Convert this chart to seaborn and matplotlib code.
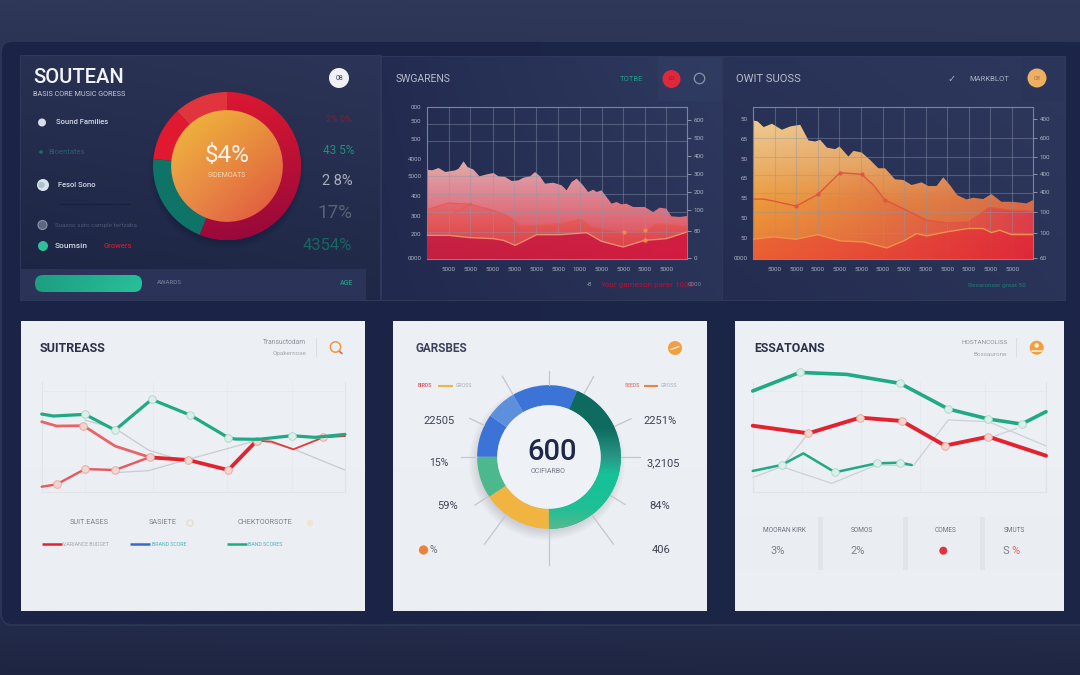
import numpy as np
import matplotlib
matplotlib.use("Agg")
import matplotlib.pyplot as plt
from matplotlib.colors import to_rgb
from matplotlib.patches import Circle, FancyBboxPatch, Rectangle
import seaborn as sns

sns.set_theme(style="white")
plt.rcParams["font.family"] = ["Roboto", "DejaVu Sans"]

W, H = 1080, 675

# ---- dark area charts -------------------------------------------------
rev_x = [0, 15, 35, 55, 85, 95, 110, 122, 140, 158, 180, 200, 215, 235, 255, 275, 290, 310, 325, 340, 355, 380,
         405, 420, 435, 450, 465, 485, 500, 510, 525, 540, 555, 570, 585, 600, 620, 655, 680, 700, 720, 735, 760, 782]
rev_top = [536, 532, 546, 522, 532, 542, 586, 552, 536, 496, 508, 516, 496, 492, 468, 472, 488, 496, 522, 496, 452, 458,
           442, 412, 462, 482, 452, 402, 416, 402, 412, 372, 332, 342, 328, 332, 312, 312, 282, 308, 302, 256, 252, 258]
rev_mid_x = [0, 65, 130, 200, 245, 280, 330, 400, 460, 500, 590, 655, 690, 782]
rev_mid = [296, 336, 328, 292, 256, 202, 202, 212, 238, 192, 162, 172, 212, 198]
rev_low_x = [0, 65, 130, 200, 230, 265, 330, 400, 480, 525, 590, 655, 720, 782]
rev_low = [142, 142, 128, 122, 112, 82, 146, 146, 158, 106, 72, 112, 122, 162]
rev_side_x = [0, 65, 130]
rev_side = [272, 258, 328]

cost_x = [0, 14, 32, 57, 87, 112, 142, 167, 187, 202, 222, 247, 260, 287, 302, 327, 352, 377, 397, 427, 452, 477,
          507, 527, 552, 572, 592, 614, 642, 662, 692, 717, 747, 782, 822, 842]
cost_top = [828, 822, 788, 808, 772, 792, 802, 708, 702, 712, 666, 656, 672, 612, 646, 636, 592, 542, 542, 476, 472, 442,
            458, 436, 436, 488, 442, 382, 356, 366, 358, 388, 342, 342, 332, 352]
cost_mid_x = [0, 32, 62, 130, 195, 262, 327, 362, 397, 457, 522, 582, 647, 712, 772, 842]
cost_mid = [358, 358, 346, 316, 386, 516, 506, 442, 352, 296, 232, 216, 220, 308, 292, 286]
cost_low_x = [0, 62, 130, 195, 262, 332, 402, 457, 492, 522, 582, 647, 692, 717, 742, 777, 842]
cost_low = [118, 132, 118, 146, 108, 102, 66, 112, 152, 138, 162, 182, 182, 158, 172, 146, 146]

rev_left_labels = ["000", "500", "500", "4000", "5000", "400", "300", "200", "0000"]
rev_left_ticks = [912, 828, 718, 602, 496, 380, 260, 148, 8]
rev_right_labels = ["600", "500", "400", "300", "200", "100", "80", "0"]
rev_right_ticks = [830, 722, 614, 508, 402, 294, 168, 8]
rev_bottom_labels = ["5000", "5000", "5000", "5000", "5000", "5000", "1000", "5000", "5000", "5000", "5000"]
cost_left_labels = ["50", "65", "50", "65", "55", "50", "50", "0000"]
cost_left_ticks = [836, 716, 598, 482, 366, 246, 126, 8]
cost_right_labels = ["400", "600", "100", "400", "400", "100", "100", "60"]
cost_right_ticks = [836, 722, 612, 506, 398, 280, 154, 8]
cost_bottom_labels = ["5000", "5000", "5000", "5000", "5000", "5000", "5000", "5000", "5000", "5000", "5000", "5000"]

# ---- light line charts --------------------------------------------------
sales_green_x = [0, 35, 130, 220, 330, 445, 560, 580, 650, 750, 820, 910]
sales_green = [70.6, 68.8, 70.3, 56, 83.9, 69.7, 49.1, 47.9, 47.6, 50.9, 49.4, 52.1]
sales_red_a_x = [0, 45, 125, 220, 325]
sales_red_a = [63.6, 59.7, 60, 41.5, 31.2]
sales_red_b_x = [325, 440, 560, 645]
sales_red_b = [31.2, 28.8, 19.7, 46.4]
sales_red_c_x = [645, 690, 755, 845, 910]
sales_red_c = [46.4, 45.5, 38.5, 49.4, 50.6]
sales_red_d_x = [0, 45, 130, 220, 328]
sales_red_d = [4.5, 6.7, 20.6, 19.7, 31.8]
sales_grey_a_x = [130, 220, 320, 390]
sales_grey_a = [65, 57.6, 37.9, 31.2]
sales_grey_b_x = [220, 320, 440, 560, 650, 750, 910]
sales_grey_b = [17.3, 19.1, 29.4, 39.4, 47, 39.4, 19.7]

est_green_x = [0, 142, 282, 442, 587, 707, 807, 880]
est_green = [91.6, 108.4, 106.6, 98.5, 75.3, 66.3, 61.7, 72.9]
est_red_x = [0, 167, 322, 447, 577, 707, 880]
est_red = [60.2, 53.3, 67.5, 64.5, 42.2, 50.3, 33.1]
est_low_x = [0, 87, 152, 247, 372, 442, 477]
est_low = [19.3, 24.7, 35.2, 18.1, 26.2, 26.8, 24.7]
est_grey_a_x = [0, 87, 167]
est_grey_a = [13.3, 23.2, 53.3]
est_grey_b_x = [87, 237, 372, 482, 587, 707, 880]
est_grey_b = [23.2, 8.1, 24.7, 24.1, 65.4, 63.9, 41.9]
est_grey_c_x = [577, 707, 792]
est_grey_c = [42.2, 48.8, 57.8]

# ---- donuts -------------------------------------------------------------
share_values = [56, 20.5, 11.75, 11.75]
share_colors = ["#A80C3C", "#0E7468", "#E01830", "#E0353C"]
garages_values = [43.6, 15.6, 9.4, 9.7, 6.9, 14.7]
garages_colors = ["#14A788", "#F2B440", "#4DB78E", "#3B74D6", "#5C90DC", "#3B74D6"]
garages_spoke_angles = [0, 29, 65, 90, 122, 143.5, 180, 216.5, 237, 270, 296, 330]
garages_spoke_reach = [1.2, 1.28, 1.26, 1.27, 1.25, 1.51, 1.5, 1.51, 1.23, 1.23, 1.23, 1.3]


def axes_px(x0, y0, x1, y1, **kw):
    ax = fig.add_axes([x0 / W, 1 - y1 / H, (x1 - x0) / W, (y1 - y0) / H], **kw)
    ax.patch.set_alpha(0)
    return ax


def corners(tl, tr, bl, br, n=48):
    t = np.linspace(0, 1, n)[None, :, None]
    v = np.linspace(0, 1, n)[:, None, None]
    tl, tr, bl, br = [np.array(to_rgb(c))[None, None, :] for c in (tl, tr, bl, br)]
    return (1 - v) * ((1 - t) * tl + t * tr) + v * ((1 - t) * bl + t * br)


def ramp(stops, n=200):
    pos = [s[0] for s in stops]
    rgb = np.array([to_rgb(s[1]) for s in stops])
    v = np.linspace(0, 1, n)
    return np.stack([np.interp(v, pos, rgb[:, i]) for i in range(3)], axis=1)


def columns(left_stops, right_stops, n=200, m=120):
    a, b = ramp(left_stops, n), ramp(right_stops, n)
    t = np.linspace(0, 1, m)[None, :, None]
    return a[:, None, :] * (1 - t) + b[:, None, :] * t


def paint(ax, img, extent, zorder=1, clip=None, alpha=1.0):
    xl, yl = ax.get_xlim(), ax.get_ylim()
    im = ax.imshow(img, extent=extent, aspect="auto", zorder=zorder, interpolation="bilinear",
                   origin="upper", alpha=alpha)
    ax.set_xlim(xl)
    ax.set_ylim(yl)
    if clip is not None:
        if isinstance(clip, tuple):
            im.set_clip_path(*clip)
        else:
            im.set_clip_path(clip)
    return im


def panel(ax, x0, y0, x1, y1, colors, edge=None):
    paint(ax, corners(*colors), (x0, x1, y1, y0))
    if edge:
        ax.add_patch(Rectangle((x0, y0), x1 - x0, y1 - y0, fc="none", ec=edge, lw=0.8, zorder=2))


def label(x, y, s, size=5, color="#C8CCD8", ha="left", weight="normal", **kw):
    fg.text(x, y, s, fontsize=size, color=color, ha=ha, va="center", fontweight=weight, zorder=6, **kw)


def dot(x, y, r, fc, ec="none", lw=0.0, alpha=1.0):
    fg.add_patch(Circle((x, y), r, fc=fc, ec=ec, lw=lw, alpha=alpha, zorder=5))


fig = plt.figure(figsize=(W / 100, H / 100), dpi=100)
bg = fig.add_axes([0, 0, 1, 1], zorder=0)
bg.set_xlim(0, W)
bg.set_ylim(H, 0)
bg.axis("off")
fg = fig.add_axes([0, 0, 1, 1], zorder=20)
fg.set_xlim(0, W)
fg.set_ylim(H, 0)
fg.axis("off")
fg.patch.set_alpha(0)

# page background and the large rounded frame
paint(bg, columns([(0, "#2F3859"), (0.06, "#2B3455"), (0.93, "#232B4A"), (1, "#1E2543")],
                  [(0, "#2F3859"), (0.06, "#2E3758"), (0.93, "#242C4B"), (1, "#1F2644")]), (0, W, H, 0))
frame = FancyBboxPatch((1, 41), W + 30, 584, boxstyle="round,pad=0,rounding_size=12", fc="none", ec="#2C3656", lw=1.2, zorder=1)
bg.add_patch(frame)
paint(bg, corners("#1B2447", "#1C2648", "#1C2547", "#1C2546"), (0, W, 625, 41), clip=frame)
bg.add_patch(FancyBboxPatch((1, 41), W + 30, 584, boxstyle="round,pad=0,rounding_size=12", fc="none", ec="#2C3656", lw=1.2, zorder=3))

# upper dark panels
panel(bg, 20, 55, 381, 300, ("#293152", "#2C3557", "#1C2444", "#202847"), edge="#2E3859")
panel(bg, 380, 56, 722, 300, ("#232C50", "#2F3A60", "#212A4E", "#2A3358"), edge="#2E3859")
panel(bg, 722, 56, 1065, 300, ("#293357", "#2E385D", "#242D50", "#2A3458"), edge="#2E3859")
bg.add_patch(Rectangle((20, 269), 346, 31, fc="#2B3458", ec="none", zorder=3))
bg.add_patch(Rectangle((658, 57), 63, 44, fc="#323D63", ec="none", alpha=0.5, zorder=3))
bg.add_patch(Rectangle((1022, 57), 42, 44, fc="#2A3458", ec="none", alpha=0.6, zorder=3))

# lower light cards
for x0, x1 in [(21, 365), (393, 707), (735, 1064)]:
    panel(bg, x0, 321, x1, 611, ("#EDF0F4", "#EDF1F5", "#EBEEF3", "#EBEEF2"))
bg.add_patch(Rectangle((735, 516), 329, 54, fc="#EAEDF1", ec="none", zorder=3))
for x in [818, 903, 980]:
    bg.add_patch(Rectangle((x, 517), 5, 53, fc="#E1E4E9", ec="none", zorder=3))


def area_chart(rect, xlim, x_grid, y_grid, left, right, bottom_labels):
    ax = axes_px(*rect, zorder=5)
    ax.set_xlim(*xlim)
    ax.set_ylim(0, 908)
    ax.set_xticks(x_grid)
    ax.set_xticklabels(bottom_labels)
    ax.set_yticks(left[0])
    ax.set_yticklabels(left[1])
    ax.set_yticks(y_grid, minor=True)
    ax.grid(False)
    ax.grid(True, which="minor", axis="y", color="#8D96AC", lw=0.8, alpha=0.42)
    ax.grid(True, which="major", axis="x", color="#8D96AC", lw=0.8, alpha=0.42)
    ax.set_axisbelow(False)
    ax.tick_params(axis="x", which="major", length=0, labelsize=4.5, labelcolor="#A9B1C2", pad=6)
    ax.tick_params(axis="y", which="major", length=0, labelsize=4.5, labelcolor="#A9B1C2", pad=4)
    ax.tick_params(which="minor", length=0)
    for s in ax.spines.values():
        s.set_color("#7A849D")
        s.set_linewidth(0.8)
    twin = ax.twinx()
    twin.set_ylim(0, 908)
    twin.set_yticks(right[0])
    twin.set_yticklabels(right[1])
    twin.grid(False)
    twin.patch.set_alpha(0)
    twin.tick_params(axis="y", length=3, width=0.7, color="#8B94AA", labelsize=4.5, labelcolor="#A9B1C2", pad=2)
    for s in twin.spines.values():
        s.set_visible(False)
    return ax


def gradient_area(ax, x, y, img, zorder, alpha=1.0):
    shape = ax.fill_between(x, y, 0, color="none", lw=0, zorder=zorder)
    paint(ax, img, (min(x), max(x), 0, max(y)), zorder=zorder, alpha=alpha,
          clip=(shape.get_paths()[0], ax.transData))


# revenue area chart
ax_rev = area_chart((427, 107, 687, 259), (0, 782), [65, 130, 198, 263, 329, 395, 460, 525, 590, 655, 720],
                    [812, 708, 602, 500, 392, 282, 162],
                    (rev_left_ticks, rev_left_labels), (rev_right_ticks, rev_right_labels),
                    rev_bottom_labels)
gradient_area(ax_rev, rev_x, rev_top,
              ramp([(0, "#E3ACA6"), (0.25, "#DE8E99"), (0.55, "#DF6E7A"), (0.85, "#DD4C58"), (1, "#D84050")])[:, None, :], 1)
gradient_area(ax_rev, rev_mid_x, rev_mid,
              ramp([(0, "#E5585C"), (0.45, "#E8483F"), (1, "#DC3A44")])[:, None, :], 2, alpha=0.5)
gradient_area(ax_rev, rev_low_x, rev_low,
              columns([(0, "#C72444"), (1, "#C41E40")], [(0, "#D11F42"), (1, "#D21C40")]), 3)
sns.lineplot(x=rev_mid_x, y=rev_mid, ax=ax_rev, color="#EA5A55", lw=0.9, zorder=4, errorbar=None,
             marker="o", markersize=2.5, mec="none", markevery=[2])
sns.lineplot(x=rev_side_x, y=rev_side, ax=ax_rev, color="#EA5A55", lw=0.9, zorder=4, errorbar=None)
sns.lineplot(x=rev_low_x, y=rev_low, ax=ax_rev, color="#EE8A6E", lw=1.0, zorder=4, errorbar=None,
             marker="o", markersize=3.2, mec="none", mfc="#F08A4A", markevery=[11])
ax_rev.plot([rev_low_x[10] + 2, rev_low_x[11] + 2], [rev_mid[10], rev_mid[11]], ls="none", marker="o", ms=3,
            mfc="#F08A4A", mec="none", zorder=5)

# cost area chart
ax_cost = area_chart((753, 107, 1033, 259), (0, 842), [65, 130, 195, 260, 325, 390, 454, 519, 584, 649, 714, 779],
                     [836, 722, 612, 500, 395, 280, 154],
                     (cost_left_ticks, cost_left_labels), (cost_right_ticks, cost_right_labels),
                     cost_bottom_labels)
gradient_area(ax_cost, cost_x, cost_top,
              columns([(0, "#EFCB90"), (0.3, "#EBB36E"), (0.58, "#EC9C3C"), (1, "#EC7A38")],
                      [(0, "#E2A878"), (0.3, "#DE9560"), (0.58, "#D86A48"), (1, "#D85A40")]), 1)
gradient_area(ax_cost, cost_mid_x, cost_mid,
              columns([(0, "#EA9A3A"), (1, "#EA6A38")], [(0, "#DE3650"), (1, "#E03048")]), 2,
              alpha=np.tile(np.linspace(0.1, 0.85, 120) ** 1.4, (200, 1)))
gradient_area(ax_cost, cost_low_x, cost_low,
              columns([(0, "#EC6236"), (1, "#EC5A34")], [(0, "#E02C3A"), (1, "#E02638")]), 3, alpha=0.85)
sns.lineplot(x=cost_mid_x, y=cost_mid, ax=ax_cost, color="#E2553F", lw=1.0, zorder=4, errorbar=None,
             marker="o", markersize=3, mec="none", markevery=[3, 4, 5, 6, 8])
sns.lineplot(x=cost_low_x, y=cost_low, ax=ax_cost, color="#F0924C", lw=1.0, zorder=4, errorbar=None)

# share donut
ax_share = axes_px(227 - 74, 166 - 74, 227 + 74, 166 + 74, zorder=5)
for i in range(8):
    bg.add_patch(Circle((227, 171), 78 - i, fc="#11183A", ec="none", alpha=0.035, zorder=4))
w_share, _ = ax_share.pie(share_values, colors=share_colors, startangle=90, counterclock=False,
                          radius=1, wedgeprops={"width": 0.26, "lw": 0})
ax_share.set_xlim(-1, 1)
ax_share.set_ylim(-1, 1)
paint(ax_share, corners("#DC1830", "#D81832", "#A00A3C", "#94083A"), (-1, 1, -1, 1), zorder=2, clip=w_share[0])
hub = Circle((0, 0), 0.755, fc="none", ec="none", transform=ax_share.transData)
ax_share.add_patch(hub)
paint(ax_share, corners("#F0BC3A", "#E8923E", "#E88A4A", "#E0503E"), (-0.76, 0.76, -0.76, 0.76), zorder=3, clip=hub)

# garages donut
ax_gar = axes_px(549 - 115, 457 - 115, 549 + 115, 457 + 115, zorder=5)
for i in range(10):
    bg.add_patch(Circle((547, 462), 78 - i, fc="#5A6478", ec="none", alpha=0.018, zorder=4))
w_gar, _ = ax_gar.pie(garages_values, colors=garages_colors, startangle=67, counterclock=False,
                      radius=1, wedgeprops={"width": 0.28, "lw": 0})
ax_gar.set_xlim(-1.6, 1.6)
ax_gar.set_ylim(-1.6, 1.6)
paint(ax_gar, ramp([(0, "#0E6A60"), (0.3, "#0E6C60"), (0.5, "#2A9686"), (0.62, "#16C298"), (0.85, "#1DBF96"),
                    (1, "#56B98E")])[:, None, :], (-1, 1, -1, 1), zorder=2, clip=w_gar[0])
ax_gar.add_patch(Circle((0, 0), 0.72, fc="#EEF1F5", ec="none", zorder=3))
for ang, reach in zip(garages_spoke_angles, garages_spoke_reach):
    a = np.deg2rad(ang)
    ax_gar.plot([np.sin(a), reach * np.sin(a)], [np.cos(a), reach * np.cos(a)], color="#C2C6CD", lw=0.9, zorder=1)


def line_axes(rect, xlim, x_grid, y_grid):
    ax = axes_px(*rect, zorder=5)
    ax.set_xlim(*xlim)
    ax.set_ylim(0, 100)
    ax.set_xticks(x_grid)
    ax.set_yticks(y_grid)
    ax.set_xticklabels([])
    ax.set_yticklabels([])
    ax.tick_params(length=0)
    ax.grid(True, color="#E6E9ED", lw=0.7)
    ax.set_axisbelow(True)
    for k, s in ax.spines.items():
        s.set_color("#E0E3E8")
        s.set_linewidth(0.8)
    ax.spines["top"].set_visible(False)
    return ax


def trace(ax, x, y, color, lw, at=None, alpha=1.0, zorder=3, face="#DDEDE8", rim="#A9D8C9"):
    kw = {}
    if at is not None:
        kw = dict(marker="o", markersize=5.5, mfc=face, mec=rim, mew=0.6, markevery=at)
    sns.lineplot(x=x, y=y, ax=ax, color=color, lw=lw, alpha=alpha, zorder=zorder, errorbar=None,
                 clip_on=False, **kw)


GREEN, RED = "#1FAA85", "#E2222E"
PINK_FACE, PINK_RIM = "#F1D5CF", "#E8A49C"

# sales lines
ax_sales = line_axes((41.7, 381.7, 345, 491.7), (0, 910), [130, 335, 555, 750], [92])
trace(ax_sales, sales_grey_a_x, sales_grey_a, "#C7CCD0", 0.9, zorder=2)
trace(ax_sales, sales_grey_b_x, sales_grey_b, "#C7CCD0", 0.9, zorder=2)
trace(ax_sales, sales_red_a_x, sales_red_a, "#E86466", 2.0, at=[2], face=PINK_FACE, rim=PINK_RIM)
trace(ax_sales, sales_red_d_x, sales_red_d, "#E6585E", 1.7, at=[1, 2, 3], face=PINK_FACE, rim=PINK_RIM)
trace(ax_sales, sales_red_b_x, sales_red_b, RED, 2.7, at=[0, 1, 2, 3], face=PINK_FACE, rim=PINK_RIM)
trace(ax_sales, sales_red_c_x, sales_red_c, "#E23A3A", 1.3, at=[0, 3], face=PINK_FACE, rim=PINK_RIM)
trace(ax_sales, sales_green_x, sales_green, GREEN, 2.3, at=[2, 3, 4, 5, 6, 9])

# estimates lines
ax_est = line_axes((752.7, 381.7, 1046, 492.3), (0, 880), [147, 325, 503, 696], [92])
trace(ax_est, est_grey_a_x, est_grey_a, "#C9D2D4", 0.9, zorder=2)
trace(ax_est, est_grey_b_x, est_grey_b, "#C9D2D4", 0.9, zorder=2)
trace(ax_est, est_grey_c_x, est_grey_c, "#C9D2D4", 0.9, zorder=2)
trace(ax_est, est_green_x, est_green, GREEN, 2.6, at=[1, 3, 4, 5, 6])
trace(ax_est, est_red_x, est_red, RED, 2.8, at=[1, 2, 3, 4, 5], face=PINK_FACE, rim=PINK_RIM)
trace(ax_est, est_low_x, est_low, GREEN, 1.8, at=[1, 3, 4, 5])

# ---- text, bullets and icons -------------------------------------------
label(33, 77.5, "SOUTEAN", 14.5, "#F2F4F8", weight="medium")
label(33, 95, "BASIS CORE MUSIC GORESS", 5.2, "#C6CAD6")
dot(339, 78, 10, "#F0F1F4")
label(339, 78, "08", 5, "#3A4260", ha="center")
dot(42, 122.5, 4, "#D9DDE6")
label(56, 122.5, "Sound Families", 5.5, "#D4D8E2", weight="medium")
dot(41, 152, 1.8, "#1F6E68")
label(48, 152, "Bioentates", 5.5, "#2B5E6C")
dot(43, 185, 6, "#DDE3EA")
dot(41.5, 185, 3.2, "#A9C4CE")
label(58, 185, "Fesol Sono", 5.5, "#D4D8E2", weight="medium")
fg.plot([60, 130], [204, 204], color="#182040", lw=0.8)
dot(42.5, 225, 4.5, "#5E6781", ec="#8A92A8", lw=0.8)
label(55, 225, "Suasso sato cample tertzaba", 4.6, "#4D5674")
dot(43, 246, 5, "#2DC09A")
label(55, 246, "Soumsin", 6, "#D4D8E2", weight="medium")
label(104, 246, "Growers", 5.5, "#C81A30", weight="medium")
label(352, 120, "2% 0%", 6.5, "#8F1830", ha="right")
label(354, 151, "43 5%", 8.5, "#1F8F7E", ha="right")
label(353, 181, "2 8%", 10.5, "#A8AFBE", ha="right")
label(352, 213, "17%", 13.5, "#566374", ha="right")
label(352, 246, "4354%", 12, "#16665F", ha="right")
paint(fg, corners("#1D9E82", "#25BD98", "#1D9E82", "#2AC09A"), (35, 142, 292, 275),
      clip=FancyBboxPatch((35, 275), 107, 17, boxstyle="round,pad=0,rounding_size=8", transform=fg.transData))
label(157, 283, "AWARDS", 4.5, "#7B849C")
label(353, 283, "AGE", 5, "#1E9C85", ha="right", weight="medium")
label(227, 155, "$4%", 17.5, "#FAF3EA", ha="center")
label(227, 175.5, "SIDEMOATS", 5, "#F4D6B4", ha="center")

label(396, 79, "SWGARENS", 7.5, "#B7BECB")
label(620, 79, "TOTBE", 5.5, "#1F9C86")
dot(671.5, 79, 9, "#E0283C")
label(671.5, 79, "00", 4, "#9C1528", ha="center")
dot(699.5, 78.5, 5.2, "none", ec="#8A93A8", lw=0.9)
label(587, 285, "-8", 4.5, "#9AA2B4")
label(600, 285, "Your gameson parer 1000", 5.8, "#A0163A", weight="medium")
label(702, 285, "0000", 4.5, "#7B849C", ha="right")

label(735.5, 79, "OWIT SUOSS", 8, "#B7BECB")
label(952, 79, "\u2713", 7, "#A9B1C2", ha="center")
label(969, 79, "MARKBLOT", 5.5, "#A9B1C2")
dot(1037, 78, 9.5, "#EDB062")
label(1037, 78, "08", 4.5, "#A87A3E", ha="center")
label(968, 285, "Resaronser great 50", 4.6, "#1F6F72", weight="medium")

DARK = "#2A3048"
label(40, 348, "SUITREASS", 9, DARK, weight="bold")
label(306.5, 343, "Transuctodam", 4.8, "#8C929E", ha="right")
label(306.5, 354, "Opakernose", 4.6, "#A2A7B1", ha="right")
fg.plot([315.5, 315.5], [338, 356], color="#DADDE3", lw=0.8)
dot(335.5, 347, 5.2, "none", ec="#EE9648", lw=1.1)
fg.plot([339, 342], [351, 353.5], color="#E2592E", lw=1.1)
label(70, 523, "SUIT.EASES", 5.2, "#7A808C")
label(149, 523, "SASIETE", 5.2, "#7A808C")
label(238, 523, "CHEKTOORSOTE", 5.2, "#7A808C")
dot(190, 523, 3, "none", ec="#E8DCCB", lw=0.9)
dot(310, 523, 3, "#F3E2CE")
fg.plot([41.7, 61.7], [544, 544], color="#E2222E", lw=1.8, solid_capstyle="butt")
label(63, 544, "VARIANCE BUDGET", 3.8, "#A2A7B1")
fg.plot([130, 150], [544, 544], color="#3B68C8", lw=1.8, solid_capstyle="butt")
label(152, 544, "BRAND SCORE", 3.8, "#4FB4C0")
fg.plot([226.7, 246.7], [544, 544], color="#1FAA85", lw=1.8, solid_capstyle="butt")
label(248, 544, "BAND SCORES", 3.8, "#4FB4C0")

label(415, 348, "GARSBES", 8.5, "#3A4158", weight="bold")
dot(675, 348, 7, "#F0A040")
fg.plot([671, 679], [349.5, 346.5], color="#F8E6C8", lw=1.0, zorder=6)
label(418, 385.5, "BIRDS", 3.8, "#D9545C", weight="medium")
fg.plot([438, 453], [385.5, 385.5], color="#F2B440", lw=1.5, solid_capstyle="butt")
label(456, 385.5, "GROSS", 3.8, "#A9AEB8")
label(625, 385.5, "SEEDS", 3.8, "#E2766C", weight="medium")
fg.plot([644, 658], [385.5, 385.5], color="#EE8040", lw=1.5, solid_capstyle="butt")
label(661, 385.5, "GROSS", 3.8, "#A9AEB8")
pct = "#3E4456"
label(439, 421, "22505", 8, pct, ha="center")
label(438.5, 463, "15%", 7.5, pct, ha="center")
label(447.5, 506, "59%", 8, pct, ha="center")
dot(423.5, 550, 4.6, "#EC8236")
label(430, 550, "%", 7.5, "#6A707E")
label(660.5, 421, "2251%", 8, pct, ha="center")
label(663.5, 463, "3,2105", 8, pct, ha="center")
label(660, 506, "84%", 8, pct, ha="center")
label(661.5, 550, "406", 8, pct, ha="center")
label(552, 452, "600", 21, "#20284A", ha="center", weight="medium")
label(548, 471.5, "OCIFIARBO", 5, "#737A88", ha="center")

label(754, 348, "ESSATOANS", 8.8, DARK, weight="bold")
label(1008, 343, "HOSTANCOLISS", 4.6, "#8C929E", ha="right")
label(1006.5, 354, "Bossaurone", 4.6, "#A2A7B1", ha="right")
fg.plot([1016, 1016], [338, 356], color="#DADDE3", lw=0.8)
dot(1036.7, 347.7, 7, "#F0A040")
dot(1036.7, 345.5, 2.3, "#FBE8D0")
fg.plot([1031.5, 1042], [351, 351], color="#FBE8D0", lw=1.2, zorder=6)
label(784, 531, "MOORAN KIRK", 4.7, "#6E7482", ha="center")
label(861.5, 531, "SOMOS", 4.7, "#6E7482", ha="center")
label(945.7, 531, "COMES", 4.7, "#6E7482", ha="center")
label(1014, 531, "SMUTS", 4.7, "#6E7482", ha="center")
label(777.7, 551.5, "3%", 8, "#7C828E", ha="center")
label(857.7, 551.5, "2%", 8, "#7C828E", ha="center")
dot(943.3, 550.7, 4, "#E0323F")
label(1006, 551.5, "S", 8, "#7C828E", ha="center")
label(1016, 551.5, "%", 8, "#E8606A", ha="center")

fig.savefig("out.png", dpi=100)
